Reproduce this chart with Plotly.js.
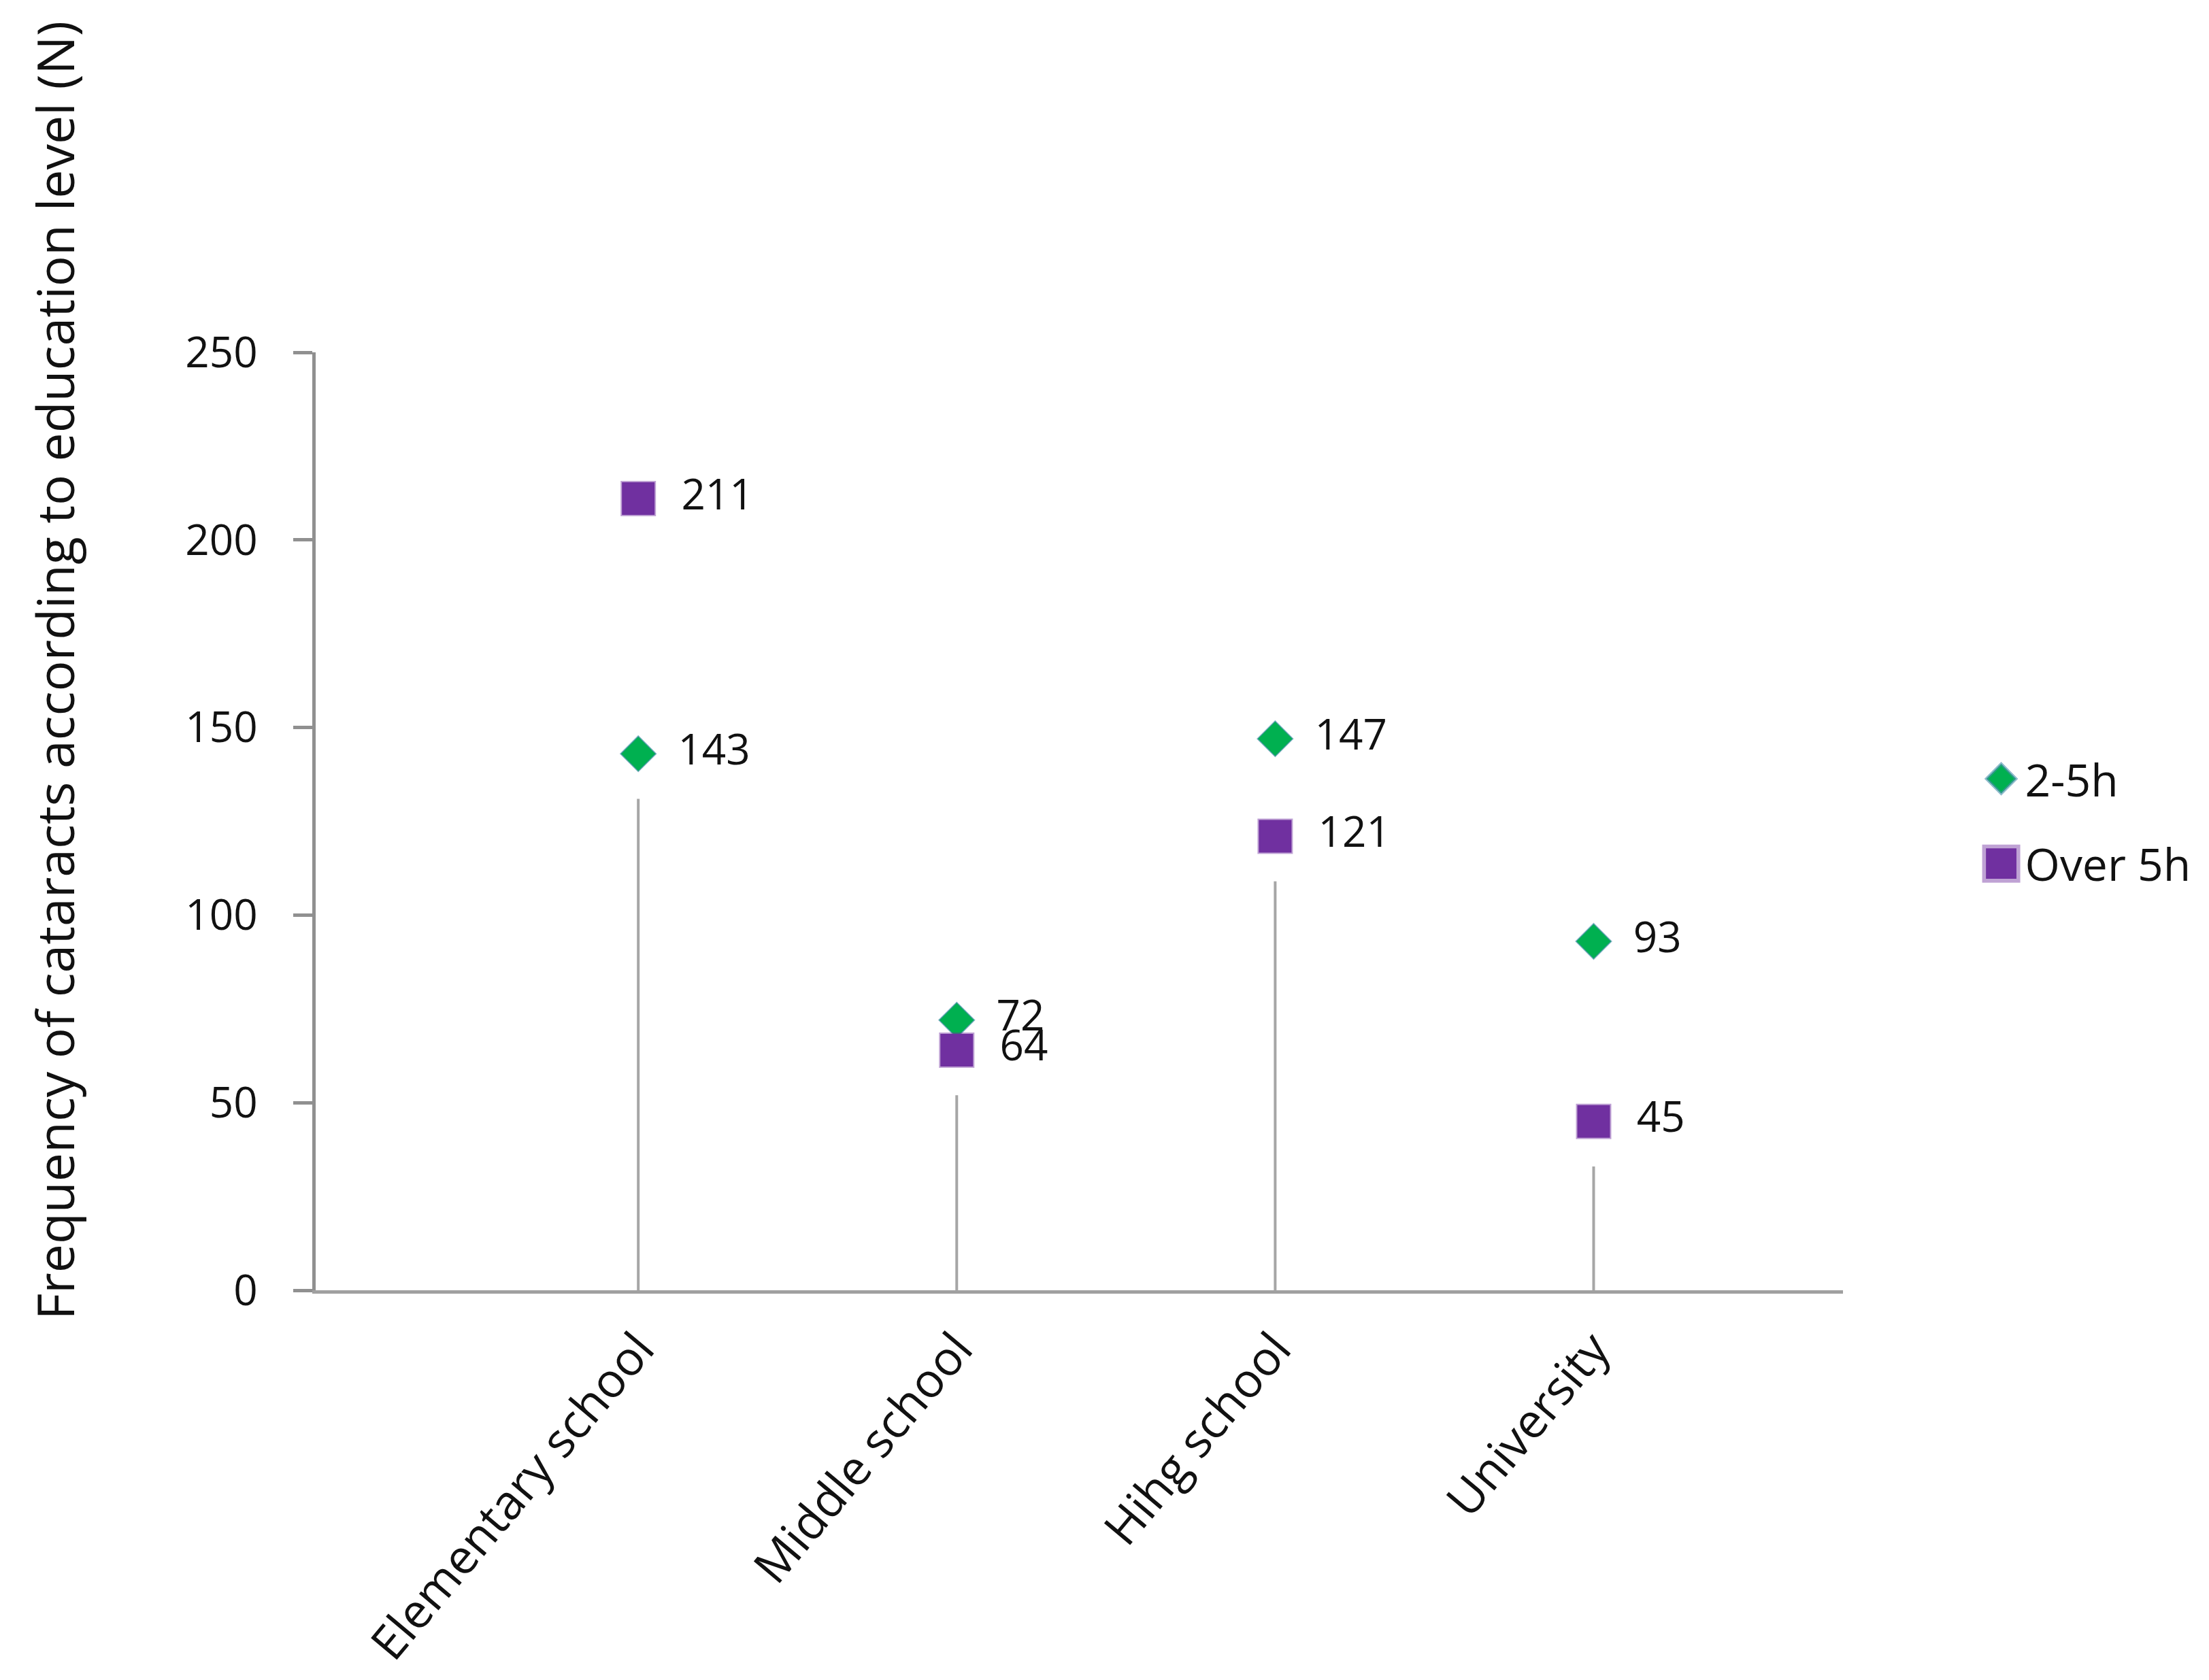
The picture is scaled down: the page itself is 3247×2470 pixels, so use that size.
<!DOCTYPE html>
<html><head><meta charset="utf-8">
<script src="https://cdn.plot.ly/plotly-3.0.1.min.js"></script>
<style>html,body{margin:0;padding:0;background:#fff}#chart{width:3247px;height:2470px}</style>
</head><body><div id="chart"></div>
<script>
const categories = ['Elementary school', 'Middle school', 'Hihg school', 'University'];
const series2to5h = [143, 72, 147, 93];
const seriesOver5h = [211, 64, 121, 45];
const seriesNames = ['2-5h', 'Over 5h'];
const yTickVals = [0, 50, 100, 150, 200, 250];
const yTitle = 'Frequency of cataracts according to education level (N)';

const FONT = '"Open Sans", "Noto Sans", sans-serif';
const dropGap = 12;
const dropX = [], dropY = [];
categories.forEach((c, i) => {
  dropX.push(c, c, null);
  dropY.push(0, Math.min(series2to5h[i], seriesOver5h[i]) - dropGap, null);
});

const labelFont = {family: FONT, size: 62, color: '#111'};
const traces = [
  {x: dropX, y: dropY, mode: 'lines', line: {color: '#a6a6a6', width: 4},
   showlegend: false, hoverinfo: 'skip'},
  {x: categories, y: series2to5h, name: seriesNames[0], mode: 'markers+text',
   marker: {symbol: 'diamond', size: 40, color: '#00b050', line: {color: 'rgba(70,140,170,0.6)', width: 2}},
   text: series2to5h.map(String), texttemplate: '\u00a0\u00a0%{text}', textposition: 'middle right',
   textfont: labelFont, legendgroup: 'a', cliponaxis: false},
  {x: categories, y: seriesOver5h, name: seriesNames[1], mode: 'markers+text',
   marker: {symbol: 'square', size: 48, color: '#7030a0', line: {color: 'rgba(112,48,160,0.45)', width: 4}},
   text: seriesOver5h.map(String), texttemplate: '\u00a0\u00a0%{text}', textposition: 'middle right',
   textfont: labelFont, legendgroup: 'b', cliponaxis: false}
];

const layout = {
  width: 3247, height: 2470,
  margin: {l: 464, r: 538, t: 518, b: 573},
  paper_bgcolor: '#fff', plot_bgcolor: '#fff',
  font: {family: FONT, size: 62, color: '#111'},
  showlegend: true,
  xaxis: {
    type: 'category', range: [-1.013, 3.783],
    showline: true, linecolor: '#a0a0a0', linewidth: 5,
    showgrid: false, zeroline: false, ticks: '',
    tickangle: -50, tickfont: {family: FONT, size: 70, color: '#111'},
    ticklabelstandoff: 12
  },
  yaxis: {
    range: [0, 250], tickvals: yTickVals,
    showline: true, linecolor: '#909090', linewidth: 5,
    ticks: 'outside', ticklen: 28, tickwidth: 5, tickcolor: '#909090',
    showgrid: false, zeroline: false,
    tickfont: {family: FONT, size: 62, color: '#111'},
    ticklabelstandoff: 40
  },
  legend: {
    orientation: 'v', x: 1.088, xanchor: 'left', y: 0.5, yanchor: 'middle',
    font: {family: FONT, size: 66, color: '#111'},
    traceorder: 'grouped', tracegroupgap: 36, itemwidth: 60,
    bgcolor: 'rgba(0,0,0,0)'
  },
  annotations: [{
    text: yTitle, xref: 'paper', yref: 'paper', x: -0.171, y: 0.661,
    xanchor: 'center', yanchor: 'middle', textangle: -90, showarrow: false,
    font: {family: FONT, size: 75, color: '#111'}
  }]
};

const legendScale = [2.1, 2.8];
Plotly.newPlot('chart', traces, layout, {displayModeBar: false, staticPlot: true}).then(() => {
  document.querySelectorAll('.legend .traces').forEach((g, i) => {
    g.querySelectorAll('.legendpoints path.scatterpts').forEach(p => {
      const t = p.getAttribute('transform') || '';
      p.setAttribute('transform', t + ' scale(' + (legendScale[i] || 2.5) + ')');
    });
  });
});
</script>
</body></html>
